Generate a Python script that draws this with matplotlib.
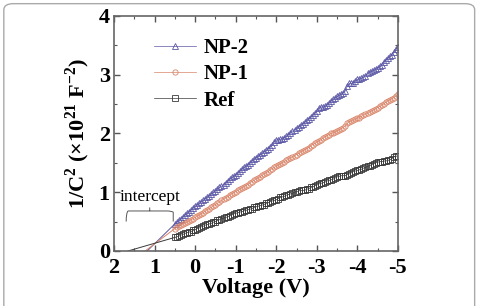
import matplotlib
matplotlib.use("Agg")
import matplotlib.pyplot as plt
from matplotlib.patches import FancyBboxPatch, PathPatch
from matplotlib.path import Path

plt.rcParams['font.family'] = ['Liberation Serif', 'DejaVu Serif']
plt.rcParams['mathtext.fontset'] = 'custom'
plt.rcParams['mathtext.rm'] = 'Liberation Serif:bold'
plt.rcParams['mathtext.bf'] = 'Liberation Serif:bold'

# voltage sweep (V), 0.05 V steps
voltage = [0.50, 0.45, 0.40, 0.35, 0.30, 0.25, 0.20, 0.15, 0.10, 0.05,
           0.00, -0.05, -0.10, -0.15, -0.20, -0.25, -0.30, -0.35, -0.40, -0.45,
           -0.50, -0.55, -0.60, -0.65, -0.70, -0.75, -0.80, -0.85, -0.90, -0.95,
           -1.00, -1.05, -1.10, -1.15, -1.20, -1.25, -1.30, -1.35, -1.40, -1.45,
           -1.50, -1.55, -1.60, -1.65, -1.70, -1.75, -1.80, -1.85, -1.90, -1.95,
           -2.00, -2.05, -2.10, -2.15, -2.20, -2.25, -2.30, -2.35, -2.40, -2.45,
           -2.50, -2.55, -2.60, -2.65, -2.70, -2.75, -2.80, -2.85, -2.90, -2.95,
           -3.00, -3.05, -3.10, -3.15, -3.20, -3.25, -3.30, -3.35, -3.40, -3.45,
           -3.50, -3.55, -3.60, -3.65, -3.70, -3.75, -3.80, -3.85, -3.90, -3.95,
           -4.00, -4.05, -4.10, -4.15, -4.20, -4.25, -4.30, -4.35, -4.40, -4.45,
           -4.50, -4.55, -4.60, -4.65, -4.70, -4.75, -4.80, -4.85, -4.90, -4.95,
           -5.00]

# 1/C^2 (x10^21 F^-2)
np2 = [0.46, 0.49, 0.52, 0.55, 0.58, 0.61, 0.64, 0.67, 0.70, 0.73,
       0.76, 0.78, 0.81, 0.84, 0.86, 0.89, 0.92, 0.94, 0.97, 1.00,
       1.02, 1.05, 1.08, 1.10, 1.13, 1.16, 1.19, 1.22, 1.25, 1.27,
       1.30, 1.33, 1.36, 1.39, 1.42, 1.44, 1.47, 1.50, 1.53, 1.56,
       1.59, 1.61, 1.64, 1.66, 1.69, 1.71, 1.74, 1.77, 1.80, 1.86,
       1.89, 1.89, 1.90, 1.91, 1.93, 1.95, 1.98, 2.01, 2.04, 2.06,
       2.09, 2.11, 2.14, 2.16, 2.19, 2.22, 2.25, 2.28, 2.31, 2.34,
       2.38, 2.43, 2.45, 2.45, 2.46, 2.49, 2.52, 2.55, 2.58, 2.60,
       2.63, 2.65, 2.67, 2.69, 2.72, 2.80, 2.85, 2.85, 2.86, 2.89,
       2.92, 2.93, 2.94, 2.96, 2.98, 3.02, 3.05, 3.06, 3.08, 3.10,
       3.12, 3.14, 3.17, 3.21, 3.25, 3.28, 3.31, 3.34, 3.38, 3.43,
       3.47]
np1 = [0.38, 0.40, 0.42, 0.44, 0.46, 0.47, 0.49, 0.51, 0.53, 0.55,
       0.57, 0.59, 0.61, 0.63, 0.65, 0.68, 0.70, 0.72, 0.74, 0.77,
       0.79, 0.81, 0.83, 0.86, 0.88, 0.90, 0.92, 0.95, 0.97, 0.99,
       1.01, 1.03, 1.05, 1.07, 1.09, 1.11, 1.13, 1.16, 1.18, 1.20,
       1.22, 1.24, 1.26, 1.29, 1.31, 1.33, 1.35, 1.38, 1.40, 1.42,
       1.44, 1.46, 1.48, 1.50, 1.52, 1.54, 1.56, 1.58, 1.60, 1.62,
       1.64, 1.66, 1.68, 1.70, 1.72, 1.74, 1.76, 1.79, 1.81, 1.83,
       1.85, 1.87, 1.89, 1.92, 1.94, 1.96, 1.98, 2.00, 2.01, 2.02,
       2.04, 2.06, 2.08, 2.10, 2.13, 2.17, 2.20, 2.21, 2.22, 2.24,
       2.26, 2.27, 2.29, 2.31, 2.33, 2.34, 2.36, 2.38, 2.40, 2.42,
       2.44, 2.46, 2.48, 2.50, 2.53, 2.55, 2.57, 2.59, 2.61, 2.64,
       2.67]
ref = [0.23, 0.24, 0.25, 0.27, 0.28, 0.30, 0.31, 0.32, 0.33, 0.35,
       0.36, 0.38, 0.39, 0.41, 0.42, 0.44, 0.45, 0.46, 0.47, 0.49,
       0.50, 0.52, 0.53, 0.55, 0.56, 0.57, 0.58, 0.60, 0.61, 0.63,
       0.64, 0.65, 0.66, 0.67, 0.68, 0.69, 0.70, 0.71, 0.72, 0.74,
       0.75, 0.76, 0.77, 0.78, 0.79, 0.81, 0.82, 0.84, 0.85, 0.86,
       0.87, 0.89, 0.91, 0.92, 0.93, 0.95, 0.96, 0.97, 0.98, 1.00,
       1.01, 1.02, 1.03, 1.03, 1.03, 1.05, 1.06, 1.08, 1.09, 1.11,
       1.12, 1.14, 1.15, 1.16, 1.17, 1.19, 1.20, 1.21, 1.22, 1.24,
       1.26, 1.27, 1.28, 1.28, 1.28, 1.30, 1.31, 1.33, 1.35, 1.36,
       1.37, 1.38, 1.39, 1.41, 1.42, 1.44, 1.45, 1.47, 1.48, 1.50,
       1.51, 1.52, 1.52, 1.53, 1.53, 1.54, 1.55, 1.57, 1.60, 1.61,
       1.62]

# extrapolated intercepts (V) where 1/C^2 = 0
intercepts = {'NP-2': 1.18, 'NP-1': 1.23, 'Ref': 1.65}

xticks = [2, 1, 0, -1, -2, -3, -4, -5]
xticklabels = ['2', '1', '0', '-1', '-2', '-3', '-4', '-5']
yticks = [0, 1, 2, 3, 4]

c_np2 = '#5b57a6'
c_np1 = '#d98468'
c_ref = '#3a3a3a'

fig = plt.figure(figsize=(4.78, 3.06), dpi=100)
ax = fig.add_axes([0.2385, 0.18, 0.594, 0.768])

series = [('NP-2', np2, c_np2, '^'), ('NP-1', np1, c_np1, 'o'), ('Ref', ref, c_ref, 's')]
for name, vals, col, mk in series:
    # thin fit line down to the intercept
    ax.plot([intercepts[name], voltage[0]], [0, vals[0]], color=col, lw=0.7)
for name, vals, col, mk in series:
    ax.plot(voltage, vals, color=col, lw=0.5, marker=mk, ms=3.8, mfc='none',
            mec=col, mew=0.6, label=name)

ax.set_xlim(2, -5)
ax.set_ylim(0, 4)
ax.set_xticks(xticks)
ax.set_xticklabels(xticklabels)
ax.set_yticks(yticks)
ax.set_xticks([1.5, 0.5, -0.5, -1.5, -2.5, -3.5, -4.5], minor=True)
ax.set_yticks([0.5, 1.5, 2.5, 3.5], minor=True)
ax.tick_params(which='both', direction='in', top=True, right=True,
               colors='#555555', labelcolor='black', labelsize=16)
ax.tick_params(which='major', length=4, width=1)
ax.tick_params(which='minor', length=2.5, width=0.8)
ax.tick_params(axis='x', pad=5)
ax.tick_params(axis='y', pad=3)
for lab in ax.get_xticklabels() + ax.get_yticklabels():
    lab.set_fontweight('bold')
for sp in ax.spines.values():
    sp.set_color('#666666')
    sp.set_linewidth(1.2)

ax.set_xlabel('Voltage (V)', fontsize=16, fontweight='bold', labelpad=0)
ax.set_ylabel(r'1/C$^\mathregular{2}$ (×10$^\mathregular{21}$ F$^\mathregular{-2}$)',
              fontsize=16, fontweight='bold', labelpad=5)

leg = ax.legend(loc='upper left', bbox_to_anchor=(0.075, 0.985), frameon=False,
                handlelength=2.0, handletextpad=0.4, labelspacing=0.3,
                prop={'family': 'Liberation Serif', 'weight': 'bold', 'size': 15})

# curly brace and label for the intercept region
x0, x1, xm = 1.70, 0.54, 1.12
yb, yt = 0.50, 0.74
verts = [(x0, yb), (x0, yt - 0.08), (x0 - 0.05, yt - 0.06), (x0 - 0.15, yt - 0.06),
         (xm + 0.06, yt - 0.06), (xm, yt - 0.06), (xm, yt),
         (xm, yt - 0.06), (xm - 0.06, yt - 0.06), (x1 + 0.15, yt - 0.06),
         (x1 + 0.05, yt - 0.06), (x1, yt - 0.08), (x1, yb)]
codes = [Path.MOVETO, Path.CURVE3, Path.CURVE3, Path.LINETO,
         Path.CURVE3, Path.CURVE3, Path.LINETO,
         Path.MOVETO, Path.CURVE3, Path.LINETO,
         Path.CURVE3, Path.CURVE3, Path.LINETO]
ax.add_patch(PathPatch(Path(verts, codes), fill=False, lw=0.7, ec='#555555'))
ax.text(1.12, 0.78, 'intercept', ha='center', va='bottom', fontsize=12.5)

# rounded frame around the figure
fig.patches.append(FancyBboxPatch((0.008, -0.05), 0.985, 1.038,
                                  boxstyle='round,pad=0,rounding_size=0.02',
                                  transform=fig.transFigure, fill=False,
                                  ec='#aaaaaa', lw=1.0))

fig.savefig('out.png', dpi=100)
